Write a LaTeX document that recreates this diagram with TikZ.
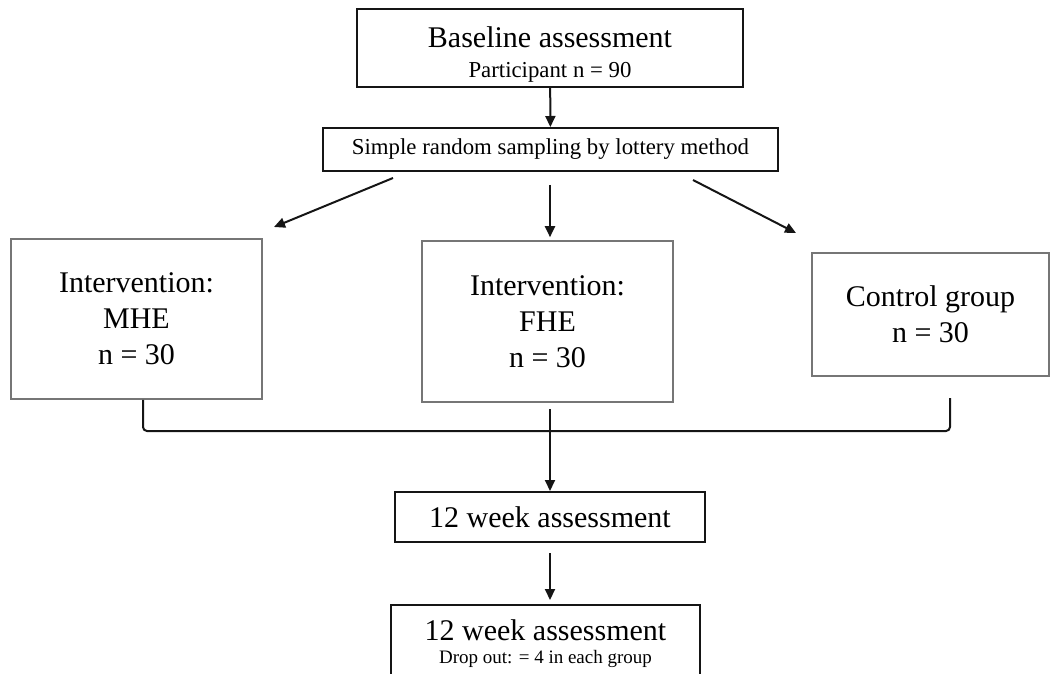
\documentclass[tikz,border=0pt]{standalone}
\usepackage{fontspec}
\setmainfont{Liberation Serif}
\usetikzlibrary{arrows.meta,positioning}
\definecolor{inkx}{HTML}{151515}
\definecolor{greyx}{HTML}{767676}
\tikzset{
  ar/.style={-{Triangle[length=5.5pt,width=5pt]},line width=1pt,inkx},
  box/.style={draw=inkx,line width=1pt,align=center,inner sep=0pt},
  grp/.style={draw=greyx,line width=0.8pt,align=center,inner sep=0pt,font=\bigtxt},
  brk/.style={line width=1pt,inkx,rounded corners=2pt}
}
\newcommand{\bigtxt}{\fontsize{15}{18}\selectfont}
\newcommand{\midtxt}{\fontsize{11.4}{14}\selectfont}
\newcommand{\smltxt}{\fontsize{9.5}{11}\selectfont}

\begin{document}
\begin{tikzpicture}[x=0.5pt,y=-0.5pt]
\useasboundingbox (0,0) rectangle (1050,674);
\clip (0,0) rectangle (1050,674);
% boxes
\node[box,minimum width=193pt,minimum height=39pt,font=\fontsize{15}{15}\selectfont] (base) at (550,48)
  {\rule{0pt}{17pt}Baseline assessment\\{\midtxt Participant n = 90}};
\node[box,minimum width=227.5pt,minimum height=21.5pt,font=\midtxt] (samp) at (550.5,149.5)
  {Simple random sampling by lottery method};
\node[grp,minimum width=125.5pt,minimum height=80pt] (mhe) at (136.5,319) {Intervention:\\MHE\\n = 30};
\node[grp,minimum width=125.5pt,minimum height=80.5pt] (fhe) at (547.5,321.5) {Intervention:\\FHE\\n = 30};
\node[grp,minimum width=118.5pt,minimum height=61.5pt] (ctrl) at (930.5,314.5) {Control group\\n = 30};
\node[box,minimum width=155pt,minimum height=25pt,font=\bigtxt] (wk) at (550,517) {12 week assessment};
\node[box,anchor=north,minimum width=154.5pt,inner ysep=7.5pt,font=\fontsize{15}{11.5}\selectfont] (final) at (545.5,604)
  {12 week assessment\\{\smltxt Drop out: = 4 in each group}};
% arrow ends
\coordinate (l0) at (393,178); \coordinate (l1) at (274,227);
\coordinate (m0) at (550,185);
\coordinate (r0) at (693,180); \coordinate (r1) at (796,233);
\coordinate (rtop) at (950,398);
\coordinate (join) at (550,431);
\coordinate (mid) at (550,409);
% connectors
\draw[ar] (base) -- (samp);
\draw[ar] (l0) -- (l1);
\draw[ar,shorten >=1.5pt] (m0) -- (m0 |- fhe.north);
\draw[ar] (r0) -- (r1);
\draw[brk] ([xshift=3.25pt]mhe.south) |- (join) -| (rtop);
\draw[ar] (mid) -- (wk);
\draw[ar,shorten <=5pt,shorten >=2pt] (wk.south) -- (wk.south |- final.north);
\end{tikzpicture}
\end{document}
